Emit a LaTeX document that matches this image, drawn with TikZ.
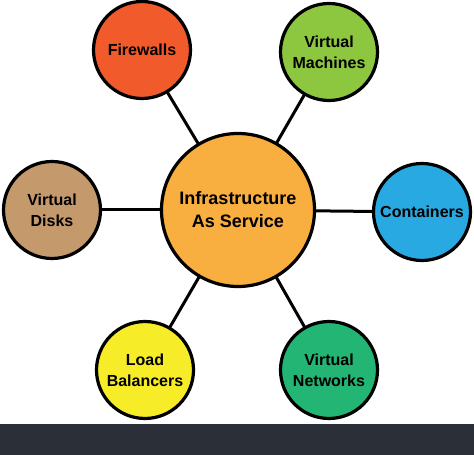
\documentclass[tikz,border=0pt]{standalone}
\usepackage{fontspec}
\setmainfont{Liberation Sans}
\usepackage{tikz}
\usetikzlibrary{backgrounds}
\definecolor{hubcol}{HTML}{F9AE40}
\definecolor{firecol}{HTML}{F15A2B}
\definecolor{vmcol}{HTML}{8DC63F}
\definecolor{diskcol}{HTML}{C49A6C}
\definecolor{contcol}{HTML}{29A9E1}
\definecolor{loadcol}{HTML}{F7EC28}
\definecolor{netcol}{HTML}{22B573}
\definecolor{barcol}{HTML}{2B2F38}
\tikzset{
  hub/.style={circle,draw=black,line width=3.2pt,fill=hubcol,minimum size=153pt,
    align=center,font=\bfseries\fontsize{18}{23}\selectfont},
  leaf/.style={circle,draw=black,line width=3.2pt,minimum size=97pt,inner sep=0pt,
    align=center,font=\bfseries\fontsize{16}{21}\selectfont},
  link/.style={line width=3pt,black}
}

\begin{document}
\begin{tikzpicture}[x=1pt,y=1pt]
\useasboundingbox (0,0) rectangle (474,455);
\fill[barcol] (0,0) rectangle (474,31);

\node[hub] (iaas) at (238,245) {Infrastructure\\As Service};
\node[leaf,fill=firecol] (fire) at (142,405) {Firewalls};
\node[leaf,fill=vmcol] (vm) at (329,403) {Virtual\\Machines};
\node[leaf,fill=diskcol] (disk) at (52,245) {Virtual\\Disks};
\node[leaf,fill=contcol] (cont) at (422,243) {Containers};
\node[leaf,fill=loadcol] (load) at (145,85) {Load\\Balancers};
\node[leaf,fill=netcol] (net) at (329,85) {Virtual\\Networks};

% spokes behind the circles
\begin{scope}[on background layer]
\foreach \n in {fire,vm,disk,cont,load,net}
  \draw[link] (iaas.center) -- (\n.center);
\end{scope}
\end{tikzpicture}
\end{document}
